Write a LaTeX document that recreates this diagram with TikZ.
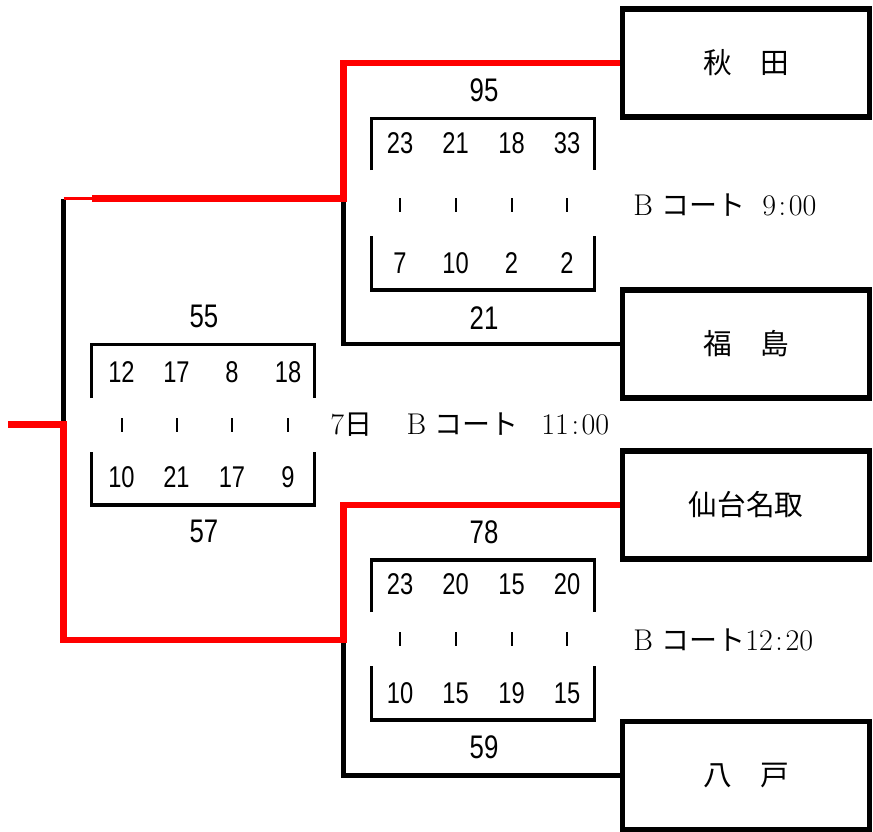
\documentclass[tikz,border=0pt]{standalone}
\usepackage{fontspec}
\newfontfamily\jpf{Noto Sans CJK JP}
\newfontfamily\numf[FakeStretch=0.79]{Liberation Sans}
\newcommand{\jpl}[1]{{\jpf\fontsize{21}{21}\selectfont #1}}
\newcommand{\bch}{\makebox[21pt][l]{B}}
\begin{document}
\begin{tikzpicture}[x=0.75pt,y=-0.75pt,
  team/.style={draw=black,line width=3.8pt,minimum width=185.6pt,minimum height=81pt,inner sep=0pt,font=\jpf\fontsize{21.5}{21.5}\selectfont},
  blk/.style={draw=black,line width=3.4pt,line join=miter},
  redl/.style={draw=red,line width=5pt,line join=miter},
  thinred/.style={draw=red,line width=2.2pt},
  sbox/.style={draw=black,line width=2.3pt,line join=miter},
  score/.style={inner sep=0pt,font=\numf\fontsize{22.5}{22.5}\selectfont},
  total/.style={inner sep=0pt,font=\numf\fontsize{24.5}{24.5}\selectfont},
  tick/.style={inner sep=0pt},
  lbl/.style={inner sep=0pt,anchor=west,font=\fontsize{22.5}{22.5}\selectfont}]
\useasboundingbox (0,0) rectangle (873,831);

% team boxes
\node[team] (akita) at (746,63) {秋　田};
\node[team] (fuku) at (746,344) {福　島};
\node[team] (sendai) at (746,505) {仙台名取};
\node[team] (hachi) at (746,775.5) {八　戸};

% junction coordinates
\coordinate (q1) at (343.5,198.5);
\coordinate (r1) at (92,198.5);
\coordinate (f1) at (63.5,198.5);
\coordinate (c1) at (63.5,424.5);
\coordinate (start) at (8,424.5);
\coordinate (q2) at (343.5,640);

% black connectors (losers)
\draw[blk] (fuku.west) -| (q1);
\draw[blk] (f1) -- (c1);
\draw[blk] (hachi.west) -| (q2);
% red connectors (winners)
\draw[thinred] (f1) -- (r1);
\draw[redl] (akita.west) -| (q1) -- (r1);
\draw[redl] (start) -- (c1) |- (q2) |- (sendai.west);

% score boxes: top
\draw[sbox] (371.5,170) -- (371.5,118.5) -- (594.5,118.5) -- (594.5,170);
\draw[sbox] (371.5,236) -- (371.5,290) -- (594.5,290) -- (594.5,236);
% middle
\draw[sbox] (91.5,398) -- (91.5,344.5) -- (314.5,344.5) -- (314.5,398);
\draw[sbox] (91.5,452) -- (91.5,505) -- (314.5,505) -- (314.5,452);
% bottom
\draw[sbox] (371.5,612) -- (371.5,560) -- (594.5,560) -- (594.5,612);
\draw[sbox] (371.5,666) -- (371.5,720) -- (594.5,720) -- (594.5,666);

% top match scores
\node[total] (t1) at (484,90) {95};
\node[total] (t2) at (484,318) {21};
\foreach \x/\a/\b [count=\i] in {400/23/7,455.5/21/10,511.5/18/2,567/33/2}{
  \node[score] (ta\i) at (\x,143.5) {\a};
  \node[tick] (tt\i) at (\x,205) {\rule{1.5pt}{10pt}};
  \node[score] (tb\i) at (\x,263) {\b};
}
% middle match scores
\node[total] (m1) at (204,316.5) {55};
\node[total] (m2) at (204,531) {57};
\foreach \x/\a/\b [count=\i] in {121.5/12/10,176.5/17/21,232/8/17,288/18/9}{
  \node[score] (ma\i) at (\x,372) {\a};
  \node[tick] (mt\i) at (\x,425) {\rule{1.5pt}{10pt}};
  \node[score] (mb\i) at (\x,477) {\b};
}
% bottom match scores
\node[total] (b1) at (484,532) {78};
\node[total] (b2) at (484,747.5) {59};
\foreach \x/\a/\b [count=\i] in {400/23/10,455.5/20/15,511.5/15/19,567/20/15}{
  \node[score] (ba\i) at (\x,584.5) {\a};
  \node[tick] (bt\i) at (\x,639) {\rule{1.5pt}{10pt}};
  \node[score] (bb\i) at (\x,693.5) {\b};
}

% labels
\node[lbl] (l1) at (633,205) {\bch\jpl{コート}\hspace{12.75pt}9\kern2pt:\kern2pt00};
\node[lbl] (l2) at (330,425) {7\jpl{日}\hspace{26pt}\bch\jpl{コート}\hspace{17pt}11\kern2pt:\kern2pt00};
\node[lbl] (l3) at (633,640) {\bch\jpl{コート}12\kern2pt:\kern2pt20};
\end{tikzpicture}
\end{document}
